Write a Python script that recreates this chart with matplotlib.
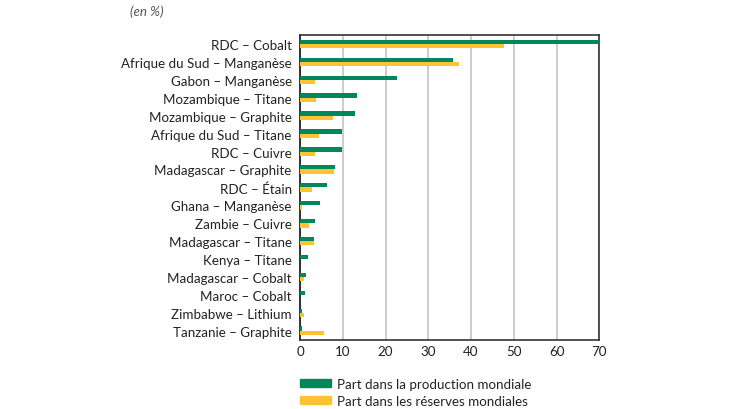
import matplotlib
matplotlib.use("Agg")
import matplotlib.pyplot as plt
from matplotlib.patches import Patch
import numpy as np

plt.rcParams['font.family'] = ['Lato', 'DejaVu Sans']

categories = [
    "RDC – Cobalt", "Afrique du Sud – Manganèse", "Gabon – Manganèse",
    "Mozambique – Titane", "Mozambique – Graphite", "Afrique du Sud – Titane",
    "RDC – Cuivre", "Madagascar – Graphite", "RDC – Étain", "Ghana – Manganèse",
    "Zambie – Cuivre", "Madagascar – Titane", "Kenya – Titane",
    "Madagascar – Cobalt", "Maroc – Cobalt", "Zimbabwe – Lithium",
    "Tanzanie – Graphite",
]
production = [70, 35.8, 22.7, 13.4, 12.8, 9.9, 9.9, 8.2, 6.2, 4.6, 3.4, 3.2, 1.9, 1.5, 1.1, 0.5, 0.5]
reserves = [47.8, 37.1, 3.4, 3.75, 7.6, 4.5, 3.4, 7.9, 2.7, 0.5, 2.0, 3.3, 0.0, 1.0, 0.0, 1.0, 5.5]
xticks = [0, 10, 20, 30, 40, 50, 60, 70]
legend_labels = ["Part dans la production mondiale", "Part dans les réserves mondiales"]
unit_label = "(en %)"

green = "#00875C"
yellow = "#FFC233"
text_col = "#222222"

fig = plt.figure(figsize=(7.3, 4.1), dpi=100)
ax = fig.add_axes([0.411, 0.169, 0.410, 0.743])

y = np.arange(len(categories))
h = 0.24
ax.barh(y - h / 2, production, height=h, color=green, zorder=3)
ax.barh(y + h / 2, reserves, height=h, color=yellow, zorder=3)

ax.set_ylim(len(categories) - 0.5, -0.5)
ax.set_xlim(0, 70)
ax.set_yticks(y)
ax.set_yticklabels(categories, fontsize=9.6, color=text_col)
ax.set_xticks(xticks)
ax.set_xticklabels([str(t) for t in xticks], fontsize=9.6, color=text_col)
ax.tick_params(axis='y', length=0, pad=6)
ax.tick_params(axis='x', length=0, pad=4)
ax.grid(axis='x', color='#c8c8c8', linewidth=1.3, zorder=0)
for s in ax.spines.values():
    s.set_color('#333333')
    s.set_linewidth(1.2)
ax.spines['left'].set_color('#111111')

fig.text(0.178, 0.972, unit_label, fontsize=9.6, style='italic', color='#555555', ha='left', va='center')

handles = [Patch(color=green), Patch(color=yellow)]
fig.legend(handles, legend_labels, loc='upper left', bbox_to_anchor=(0.411, 0.076),
           frameon=False, fontsize=9.6, handlelength=2.3, handleheight=0.5,
           handletextpad=0.45, labelspacing=0.35, borderaxespad=0, borderpad=0,
           labelcolor=text_col)

fig.savefig("out.png", dpi=100)
